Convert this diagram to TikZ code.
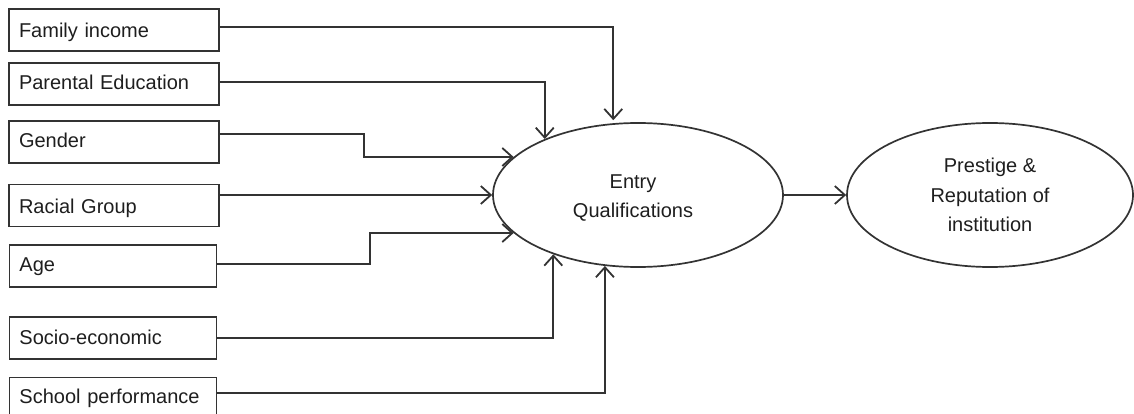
\documentclass[tikz,border=0pt]{standalone}
\usepackage{fontspec}
\setmainfont{Liberation Sans}
\usetikzlibrary{arrows.meta,shapes.geometric}
\definecolor{linecol}{HTML}{333333}
\definecolor{txtcol}{HTML}{1E1E1E}
\begin{document}
\begin{tikzpicture}[x=1pt,y=-1pt,
  box/.style={draw=linecol, line width=1.6pt, rectangle, minimum height=42pt,
    inner xsep=10pt, inner ysep=0pt, text width=#1, align=left, text depth=0pt,
    font=\fontsize{20}{24}\selectfont, text=txtcol},
  box/.default=190pt,
  ell/.style={draw=linecol, line width=1.7pt, ellipse, minimum width=#1,
    minimum height=144pt, inner sep=0pt, align=center,
    font=\fontsize{20}{29.5}\selectfont, text=txtcol},
  conn/.style={draw=linecol, line width=1.8pt,
    -{Straight Barb[length=10pt,width=18pt,line width=1.8pt]}}
]
\useasboundingbox (0,0) rectangle (1134,414);

\node[box, text height=15pt] (fam) at (114,30.2) {Family income};
\node[box, text height=11.6pt] (par) at (114,84.2) {Parental Education};
\node[box, text height=10pt] (gen) at (114,142.2) {Gender};
\node[box, text height=15.6pt] (rac) at (114,205.5) {Racial Group};
\node[box=187pt, text height=10pt] (age) at (113,266.2) {Age};
\node[box=187pt, text height=13pt] (soc) at (113,337.8) {Socio-economic};
\node[box=187pt, text height=9.5pt] (sch) at (113,398.3) {School performance};

\node[ell=290pt] (E) at (638,195) {};
\node[text=txtcol, align=center, font=\fontsize{20}{29.5}\selectfont] (Et) at (633,198) {Entry\\Qualifications};
\node[ell=286pt] (P) at (990,195) {Prestige \&\\Reputation of\\institution};

\draw[conn] ([yshift=3.2pt]fam.east) -| ([yshift=3pt]E.109);
\draw[conn] ([yshift=2.5pt]par.east) -| (E.149);
\draw[conn] ([yshift=7.9pt]gen.east) -- ++(144,0) |- (E.163);
\draw[conn] ([yshift=10.5pt]rac.east) -- (E.west);
\draw[conn] ([yshift=1.9pt]age.east) -- ++(153,0) |- (E.197);
\draw[conn] (soc.east) -| (E.215);
\draw[conn] ([yshift=5pt]sch.east) -| (E.245);
\draw[conn] (E.east) -- (P.west);
\end{tikzpicture}
\end{document}
